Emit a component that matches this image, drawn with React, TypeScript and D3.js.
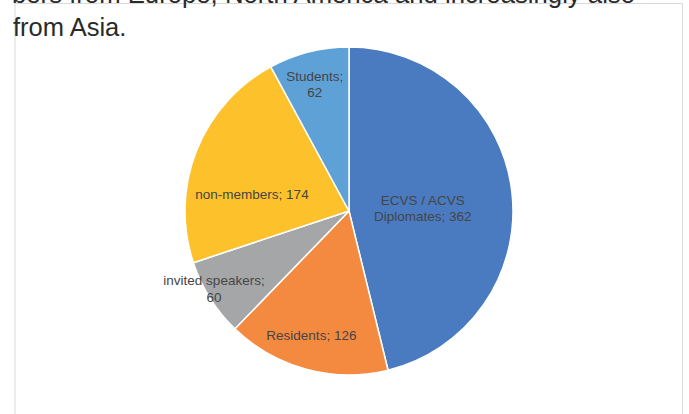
import React from "react";
import * as d3 from "d3";

const categories = ["ECVS / ACVS Diplomates", "Residents", "invited speakers", "non-members", "Students"];
const values = [362, 126, 60, 174, 62];
const labelLines = [
  ["ECVS / ACVS", "Diplomates; 362"],
  ["Residents; 126"],
  ["invited speakers;", "60"],
  ["non-members; 174"],
  ["Students;", "62"],
];
const colors = ["#4a7bc0", "#f38a40", "#a5a6a7", "#fdc22b", "#5ea1d7"];

// label placement: fraction of radius, fraction of the slice's angular span
const labelRadius = [0.45, 0.79, 0.95, 0.6, 0.8];
const labelAngleFrac = [0.528, 0.53, 0.58, 0.35, 0.47];

const W = 689;
const H = 414;
const cx = 349;
const cy = 211;
const R = 164;

export default function App() {
  const pie = d3
    .pie<number>()
    .sort(null)
    .value((d) => d)
    .startAngle(0)
    .endAngle(2 * Math.PI);
  const arcs = pie(values);
  const arc = d3.arc<d3.PieArcDatum<number>>().innerRadius(0).outerRadius(R);
  const font = "'Liberation Sans', Arial, Helvetica, sans-serif";
  const lh = 16.5;

  return (
    <svg
      width={W}
      height={H}
      style={{ position: "absolute", left: 0, top: 0, background: "#fff" }}
    >
      <path d={`M15,${H + 2} V3.5 H682.5 V${H + 2}`} fill="none" stroke="#d9d9d9" strokeWidth={1} />
      <text
        x={12}
        y={3}
        fontFamily={font}
        fontSize={25.5}
        fill="#2a2a2a"
        textLength={623}
        lengthAdjust="spacingAndGlyphs"
      >
        bers from Europe, North America and increasingly also
      </text>
      <text x={13} y={36} fontFamily={font} fontSize={25.5} fill="#2a2a2a">
        from Asia.
      </text>
      <g transform={`translate(${cx},${cy})`}>
        {arcs.map((a, i) => (
          <path key={categories[i]} d={arc(a) || ""} fill={colors[i]} stroke="#fff" strokeWidth={1.5} />
        ))}
        {arcs.map((a, i) => {
          const ang = a.startAngle + (a.endAngle - a.startAngle) * labelAngleFrac[i];
          const r = R * labelRadius[i];
          const x = Math.sin(ang) * r;
          const y = -Math.cos(ang) * r;
          const lines = labelLines[i];
          const y0 = y - ((lines.length - 1) * lh) / 2 + 4.8;
          return (
            <text key={"l" + i} fontFamily={font} fontSize={13.5} fill="#454545" textAnchor="middle">
              {lines.map((t, j) => (
                <tspan key={j} x={x} y={y0 + j * lh}>
                  {t}
                </tspan>
              ))}
            </text>
          );
        })}
      </g>
    </svg>
  );
}
